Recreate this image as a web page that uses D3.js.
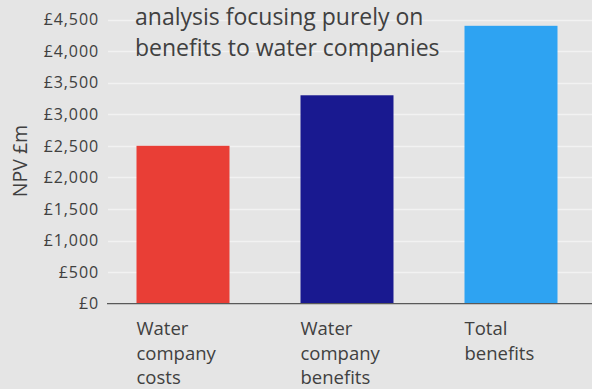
<!DOCTYPE html>
<html><head><meta charset="utf-8">
<script src="https://cdn.jsdelivr.net/npm/d3@7"></script>
<style>
html,body{margin:0;padding:0;background:#e5e5e5;}
svg{display:block;}
text{font-family:"Open Sans",sans-serif;fill:#404040;}
</style></head><body>
<script>
const categories = [["Water","company","costs"],["Water","company","benefits"],["Total","benefits"]];
const values = [2500, 3300, 4400];
const colors = ["#e93e36", "#191990", "#2ea3f2"];
const yTicks = [0,500,1000,1500,2000,2500,3000,3500,4000,4500];
const titleLines = ["analysis focusing purely on","benefits to water companies"];
const yLabel = "NPV £m";

const W = 592, H = 389;
const svg = d3.select("body").append("svg").attr("width", W).attr("height", H);
svg.append("rect").attr("width", W).attr("height", H).attr("fill", "#e5e5e5");

const y = d3.scaleLinear().domain([0, 4500]).range([303.7, 19.5]);
const x = d3.scaleBand().domain(d3.range(categories.length)).range([101, 593])
  .paddingInner(0.433).paddingOuter(0.2165);

// gridlines
svg.append("g").selectAll("line").data(yTicks.filter(d => d > 0)).join("line")
  .attr("x1", 108).attr("x2", W)
  .attr("y1", d => Math.round(y(d)) + 0.5).attr("y2", d => Math.round(y(d)) + 0.5)
  .attr("stroke", "#f2f2f2").attr("stroke-width", 1.3);

// y axis labels
const fmt = d3.format(",");
svg.append("g").selectAll("text").data(yTicks).join("text")
  .attr("x", 99).attr("y", d => y(d)).attr("dy", "0.36em")
  .attr("text-anchor", "end").style("font-size", "16px").style("letter-spacing", "0.9px")
  .text(d => "£" + fmt(d));

// bars
svg.append("g").selectAll("rect").data(values).join("rect")
  .attr("x", (d, i) => x(i)).attr("width", x.bandwidth())
  .attr("y", d => y(d)).attr("height", d => y(0) - y(d))
  .attr("fill", (d, i) => colors[i]);

// baseline
svg.append("line").attr("x1", 107).attr("x2", W)
  .attr("y1", y(0)).attr("y2", y(0)).attr("stroke", "#595959").attr("stroke-width", 1.3);

// category labels
categories.forEach((lines, i) => {
  const t = svg.append("text").style("font-size", "18.5px");
  lines.forEach((l, j) => t.append("tspan").attr("x", x(i)).attr("y", 335 + j * 24.6).text(l));
});

// y label
svg.append("text").attr("transform", "translate(27,161) rotate(-90)")
  .attr("text-anchor", "middle").style("font-size", "19.5px").text(yLabel);

// title
titleLines.forEach((l, j) => {
  svg.append("text").attr("x", 135).attr("y", 24.5 + j * 31.5)
    .style("font-size", "23px").text(l);
});
</script>
</body></html>
